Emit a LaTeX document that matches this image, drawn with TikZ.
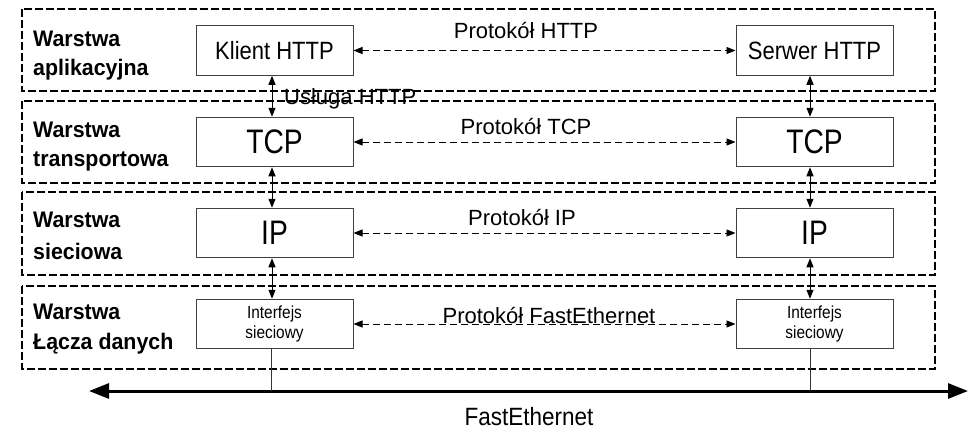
\documentclass[tikz,border=0pt]{standalone}
\usepackage{fontspec}
\setmainfont{Liberation Sans}
\usepackage{graphicx}
\usetikzlibrary{arrows.meta}
\newcommand\sx[2]{\scalebox{#1}[1]{#2}}
\begin{document}
\begin{tikzpicture}[x=1pt,y=-1pt,
  layer/.style={draw=black, line width=1.8pt, dash pattern=on 8pt off 3pt},
  lab/.style={anchor=base west, inner sep=0pt, font=\fontsize{22.5}{27}\selectfont\bfseries},
  box/.style={draw=black!75, line width=1pt, minimum width=157pt, minimum height=49.5pt, inner sep=0pt, fill=white},
  big/.style={font=\fontsize{34}{40}\selectfont},
  mid/.style={font=\fontsize{25}{30}\selectfont},
  small/.style={font=\fontsize{17.5}{20.7}\selectfont, align=center},
  proto/.style={anchor=base, inner sep=0pt, font=\fontsize{22}{26}\selectfont},
  varrow/.style={draw=black, line width=1pt, {Triangle[length=9pt,width=7pt]}-{Triangle[length=9pt,width=7pt]}},
  harrow/.style={draw=black, line width=0.9pt, dash pattern=on 7pt off 4pt, {Triangle[length=9pt,width=7pt]}-{Triangle[length=9pt,width=7pt]}},
  bus/.style={draw=black, line width=3pt, {Triangle[length=20pt,width=15pt]}-{Triangle[length=20pt,width=15pt]}},
  wire/.style={draw=black!80, line width=1pt}]
\useasboundingbox (0,0) rectangle (975,429);

% layers
\draw[layer] (22,9) rectangle (935,91);
\draw[layer] (22,101) rectangle (935,183);
\draw[layer] (22,192) rectangle (935,275);
\draw[layer] (22,286) rectangle (935,369);

% layer labels
\node[lab] (l1a) at (33,46.7) {\sx{0.95}{Warstwa}};
\node[lab] (l1b) at (33,75.5) {\sx{0.95}{aplikacyjna}};
\node[lab] (l2a) at (33,137) {\sx{0.95}{Warstwa}};
\node[lab] (l2b) at (33,166.5) {\sx{0.95}{transportowa}};
\node[lab] (l3a) at (33,227) {\sx{0.95}{Warstwa}};
\node[lab] (l3b) at (33,259.5) {\sx{0.95}{sieciowa}};
\node[lab] (l4a) at (33,319.5) {\sx{0.95}{Warstwa}};
\node[lab] (l4b) at (33,349.5) {\sx{0.95}{Łącza danych}};

% boxes left
\node[box, mid] (k1) at (274.5,50.5) {\sx{0.88}{Klient HTTP}};
\node[box, big] (t1) at (274.5,142) {\sx{0.83}{TCP}};
\node[box, big] (p1) at (274.5,233) {\sx{0.83}{IP}};
\node[box, small] (i1) at (274.5,324) {\sx{0.88}{Interfejs}\\\sx{0.88}{sieciowy}};
% boxes right
\node[box, mid] (k2) at (814.5,50.5) {\sx{0.88}{Serwer HTTP}};
\node[box, big] (t2) at (814.5,142) {\sx{0.83}{TCP}};
\node[box, big] (p2) at (814.5,233) {\sx{0.83}{IP}};
\node[box, small] (i2) at (814.5,324) {\sx{0.88}{Interfejs}\\\sx{0.88}{sieciowy}};

% vertical arrows
\draw[varrow] ([xshift=-2.5pt]k1.south) -- ([xshift=-2.5pt]t1.north);
\draw[varrow] ([xshift=-2.5pt]t1.south) -- ([xshift=-2.5pt]p1.north);
\draw[varrow] ([xshift=-2.5pt]p1.south) -- ([xshift=-2.5pt]i1.north);
\draw[varrow] ([xshift=-4.5pt]k2.south) -- ([xshift=-4.5pt]t2.north);
\draw[varrow] ([xshift=-4.5pt]t2.south) -- ([xshift=-4.5pt]p2.north);
\draw[varrow] ([xshift=-4.5pt]p2.south) -- ([xshift=-4.5pt]i2.north);

% horizontal protocol arrows
\draw[harrow] (k1.east) -- (k2.west);
\draw[harrow] (t1.east) -- (t2.west);
\draw[harrow] (p1.east) -- (p2.west);
\draw[harrow] (i1.east) -- (i2.west);

% protocol labels
\node[proto] (ph) at (526,38) {Protokół HTTP};
\node[proto] (pt) at (526,134) {Protokół TCP};
\node[proto] (pi) at (522,225) {Protokół IP};
\node[proto] (pf) at (549,323) {Protokół FastEthernet};
\node[proto, anchor=base west] (us) at (284,104) {Usługa HTTP};

% bus
\coordinate (busL) at (89,391);
\coordinate (busR) at (968,391);
\draw[bus] (busL) -- (busR);
\draw[wire] ([xshift=-3pt]i1.south) -- ([xshift=-3pt]i1.south |- busL);
\draw[wire] ([xshift=-4.5pt]i2.south) -- ([xshift=-4.5pt]i2.south |- busL);
\node[anchor=base, inner sep=0pt, font=\fontsize{25}{30}\selectfont] (fe) at (529,425.5) {\sx{0.9}{FastEthernet}};
\end{tikzpicture}
\end{document}
